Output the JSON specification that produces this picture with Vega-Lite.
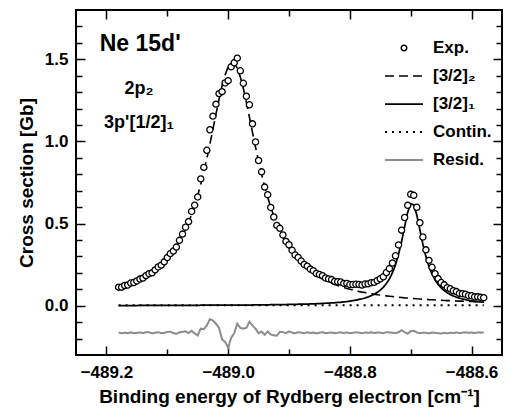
{
"$schema": "https://vega.github.io/schema/vega-lite/v6.json",
"width": 426, "height": 345,
"autosize": "none",
"padding": {"left": 76, "top": 10, "right": 8, "bottom": 59},
"background": "white",
"config": {
  "font": "Liberation Sans",
  "view": {"stroke": "black", "strokeWidth": 2},
  "axis": {"domain": false, "grid": false, "labelOverlap": false, "labelBound": false, "labelFont": "Liberation Sans", "labelFontWeight": "bold", "labelFontSize": 17, "labelColor": "black", "titleFont": "Liberation Sans", "titleFontWeight": "bold", "titleFontSize": 19, "titleColor": "black", "tickColor": "black", "tickWidth": 1.5}
},
"datasets": {"d": [
{"x":-489.180,"exp":0.113,"b2":0.106,"b1":0.001,"cont":0.003,"res":-0.163},
{"x":-489.175,"exp":0.113,"b2":0.112,"b1":0.001,"cont":0.003,"res":-0.168},
{"x":-489.170,"exp":0.123,"b2":0.118,"b1":0.001,"cont":0.003,"res":-0.164},
{"x":-489.165,"exp":0.126,"b2":0.124,"b1":0.001,"cont":0.003,"res":-0.167},
{"x":-489.160,"exp":0.138,"b2":0.131,"b1":0.001,"cont":0.003,"res":-0.162},
{"x":-489.155,"exp":0.141,"b2":0.138,"b1":0.001,"cont":0.003,"res":-0.167},
{"x":-489.150,"exp":0.151,"b2":0.146,"b1":0.001,"cont":0.003,"res":-0.165},
{"x":-489.145,"exp":0.162,"b2":0.155,"b1":0.002,"cont":0.003,"res":-0.163},
{"x":-489.140,"exp":0.168,"b2":0.165,"b1":0.002,"cont":0.003,"res":-0.166},
{"x":-489.135,"exp":0.183,"b2":0.175,"b1":0.002,"cont":0.003,"res":-0.162},
{"x":-489.130,"exp":0.195,"b2":0.186,"b1":0.002,"cont":0.003,"res":-0.161},
{"x":-489.125,"exp":0.200,"b2":0.199,"b1":0.002,"cont":0.003,"res":-0.168},
{"x":-489.120,"exp":0.218,"b2":0.213,"b1":0.002,"cont":0.003,"res":-0.164},
{"x":-489.115,"exp":0.236,"b2":0.228,"b1":0.002,"cont":0.003,"res":-0.161},
{"x":-489.110,"exp":0.247,"b2":0.244,"b1":0.002,"cont":0.003,"res":-0.167},
{"x":-489.105,"exp":0.267,"b2":0.263,"b1":0.002,"cont":0.003,"res":-0.165},
{"x":-489.100,"exp":0.293,"b2":0.283,"b1":0.002,"cont":0.003,"res":-0.160},
{"x":-489.095,"exp":0.317,"b2":0.305,"b1":0.002,"cont":0.003,"res":-0.158},
{"x":-489.090,"exp":0.333,"b2":0.330,"b1":0.002,"cont":0.003,"res":-0.167},
{"x":-489.085,"exp":0.357,"b2":0.358,"b1":0.002,"cont":0.003,"res":-0.171},
{"x":-489.080,"exp":0.398,"b2":0.390,"b1":0.002,"cont":0.003,"res":-0.162},
{"x":-489.075,"exp":0.436,"b2":0.424,"b1":0.002,"cont":0.003,"res":-0.159},
{"x":-489.070,"exp":0.478,"b2":0.464,"b1":0.002,"cont":0.003,"res":-0.156},
{"x":-489.065,"exp":0.512,"b2":0.507,"b1":0.002,"cont":0.003,"res":-0.166},
{"x":-489.060,"exp":0.574,"b2":0.556,"b1":0.002,"cont":0.003,"res":-0.153},
{"x":-489.055,"exp":0.612,"b2":0.611,"b1":0.002,"cont":0.003,"res":-0.169},
{"x":-489.050,"exp":0.662,"b2":0.672,"b1":0.002,"cont":0.003,"res":-0.181},
{"x":-489.045,"exp":0.772,"b2":0.740,"b1":0.003,"cont":0.003,"res":-0.139},
{"x":-489.040,"exp":0.842,"b2":0.815,"b1":0.003,"cont":0.003,"res":-0.143},
{"x":-489.035,"exp":0.946,"b2":0.896,"b1":0.003,"cont":0.003,"res":-0.120},
{"x":-489.030,"exp":1.071,"b2":0.983,"b1":0.003,"cont":0.003,"res":-0.082},
{"x":-489.025,"exp":1.154,"b2":1.074,"b1":0.003,"cont":0.003,"res":-0.090},
{"x":-489.020,"exp":1.227,"b2":1.166,"b1":0.003,"cont":0.003,"res":-0.110},
{"x":-489.015,"exp":1.291,"b2":1.255,"b1":0.003,"cont":0.003,"res":-0.135},
{"x":-489.010,"exp":1.303,"b2":1.337,"b1":0.003,"cont":0.003,"res":-0.205},
{"x":-489.005,"exp":1.356,"b2":1.405,"b1":0.003,"cont":0.003,"res":-0.220},
{"x":-489.000,"exp":1.370,"b2":1.454,"b1":0.003,"cont":0.003,"res":-0.255},
{"x":-488.995,"exp":1.454,"b2":1.478,"b1":0.003,"cont":0.003,"res":-0.195},
{"x":-488.990,"exp":1.479,"b2":1.475,"b1":0.003,"cont":0.003,"res":-0.168},
{"x":-488.985,"exp":1.507,"b2":1.446,"b1":0.004,"cont":0.003,"res":-0.110},
{"x":-488.980,"exp":1.430,"b2":1.393,"b1":0.004,"cont":0.003,"res":-0.135},
{"x":-488.975,"exp":1.354,"b2":1.322,"b1":0.004,"cont":0.003,"res":-0.140},
{"x":-488.970,"exp":1.275,"b2":1.238,"b1":0.004,"cont":0.003,"res":-0.135},
{"x":-488.965,"exp":1.223,"b2":1.147,"b1":0.004,"cont":0.003,"res":-0.097},
{"x":-488.960,"exp":1.107,"b2":1.055,"b1":0.004,"cont":0.003,"res":-0.120},
{"x":-488.955,"exp":0.997,"b2":0.965,"b1":0.005,"cont":0.003,"res":-0.140},
{"x":-488.950,"exp":0.884,"b2":0.879,"b1":0.005,"cont":0.003,"res":-0.168},
{"x":-488.945,"exp":0.815,"b2":0.799,"b1":0.005,"cont":0.003,"res":-0.157},
{"x":-488.940,"exp":0.722,"b2":0.726,"b1":0.005,"cont":0.003,"res":-0.177},
{"x":-488.935,"exp":0.676,"b2":0.660,"b1":0.005,"cont":0.003,"res":-0.157},
{"x":-488.930,"exp":0.598,"b2":0.600,"b1":0.006,"cont":0.003,"res":-0.175},
{"x":-488.925,"exp":0.540,"b2":0.546,"b1":0.006,"cont":0.003,"res":-0.180},
{"x":-488.920,"exp":0.489,"b2":0.498,"b1":0.006,"cont":0.003,"res":-0.183},
{"x":-488.915,"exp":0.471,"b2":0.455,"b1":0.007,"cont":0.003,"res":-0.159},
{"x":-488.910,"exp":0.431,"b2":0.417,"b1":0.007,"cont":0.003,"res":-0.161},
{"x":-488.905,"exp":0.391,"b2":0.383,"b1":0.007,"cont":0.003,"res":-0.167},
{"x":-488.900,"exp":0.371,"b2":0.353,"b1":0.008,"cont":0.003,"res":-0.157},
{"x":-488.895,"exp":0.338,"b2":0.325,"b1":0.008,"cont":0.003,"res":-0.163},
{"x":-488.890,"exp":0.309,"b2":0.301,"b1":0.008,"cont":0.003,"res":-0.168},
{"x":-488.885,"exp":0.294,"b2":0.279,"b1":0.009,"cont":0.003,"res":-0.161},
{"x":-488.880,"exp":0.272,"b2":0.259,"b1":0.009,"cont":0.003,"res":-0.164},
{"x":-488.875,"exp":0.251,"b2":0.241,"b1":0.010,"cont":0.003,"res":-0.167},
{"x":-488.870,"exp":0.241,"b2":0.224,"b1":0.010,"cont":0.003,"res":-0.162},
{"x":-488.865,"exp":0.223,"b2":0.210,"b1":0.011,"cont":0.003,"res":-0.166},
{"x":-488.860,"exp":0.213,"b2":0.196,"b1":0.011,"cont":0.003,"res":-0.163},
{"x":-488.855,"exp":0.196,"b2":0.184,"b1":0.012,"cont":0.003,"res":-0.168},
{"x":-488.850,"exp":0.190,"b2":0.173,"b1":0.013,"cont":0.003,"res":-0.164},
{"x":-488.845,"exp":0.183,"b2":0.163,"b1":0.014,"cont":0.003,"res":-0.161},
{"x":-488.840,"exp":0.169,"b2":0.153,"b1":0.015,"cont":0.003,"res":-0.167},
{"x":-488.835,"exp":0.163,"b2":0.145,"b1":0.016,"cont":0.003,"res":-0.165},
{"x":-488.830,"exp":0.159,"b2":0.137,"b1":0.017,"cont":0.003,"res":-0.163},
{"x":-488.825,"exp":0.148,"b2":0.129,"b1":0.018,"cont":0.003,"res":-0.168},
{"x":-488.820,"exp":0.146,"b2":0.123,"b1":0.020,"cont":0.003,"res":-0.164},
{"x":-488.815,"exp":0.144,"b2":0.116,"b1":0.021,"cont":0.003,"res":-0.162},
{"x":-488.810,"exp":0.136,"b2":0.111,"b1":0.023,"cont":0.003,"res":-0.166},
{"x":-488.805,"exp":0.136,"b2":0.105,"b1":0.025,"cont":0.003,"res":-0.163},
{"x":-488.800,"exp":0.129,"b2":0.100,"b1":0.028,"cont":0.003,"res":-0.167},
{"x":-488.795,"exp":0.129,"b2":0.096,"b1":0.031,"cont":0.003,"res":-0.165},
{"x":-488.790,"exp":0.131,"b2":0.091,"b1":0.034,"cont":0.003,"res":-0.162},
{"x":-488.785,"exp":0.129,"b2":0.087,"b1":0.038,"cont":0.003,"res":-0.164},
{"x":-488.780,"exp":0.126,"b2":0.083,"b1":0.042,"cont":0.003,"res":-0.167},
{"x":-488.775,"exp":0.132,"b2":0.080,"b1":0.047,"cont":0.003,"res":-0.163},
{"x":-488.770,"exp":0.133,"b2":0.076,"b1":0.053,"cont":0.003,"res":-0.165},
{"x":-488.765,"exp":0.140,"b2":0.073,"b1":0.061,"cont":0.003,"res":-0.162},
{"x":-488.760,"exp":0.142,"b2":0.070,"b1":0.070,"cont":0.003,"res":-0.166},
{"x":-488.755,"exp":0.153,"b2":0.067,"b1":0.081,"cont":0.003,"res":-0.163},
{"x":-488.750,"exp":0.164,"b2":0.065,"b1":0.095,"cont":0.003,"res":-0.164},
{"x":-488.745,"exp":0.176,"b2":0.062,"b1":0.112,"cont":0.003,"res":-0.167},
{"x":-488.740,"exp":0.202,"b2":0.060,"b1":0.135,"cont":0.003,"res":-0.161},
{"x":-488.735,"exp":0.226,"b2":0.058,"b1":0.163,"cont":0.003,"res":-0.163},
{"x":-488.730,"exp":0.260,"b2":0.056,"b1":0.201,"cont":0.003,"res":-0.164},
{"x":-488.725,"exp":0.304,"b2":0.054,"b1":0.249,"cont":0.003,"res":-0.167},
{"x":-488.720,"exp":0.370,"b2":0.052,"b1":0.313,"cont":0.003,"res":-0.162},
{"x":-488.715,"exp":0.460,"b2":0.050,"b1":0.391,"cont":0.003,"res":-0.149},
{"x":-488.710,"exp":0.537,"b2":0.048,"b1":0.482,"cont":0.003,"res":-0.161},
{"x":-488.705,"exp":0.611,"b2":0.047,"b1":0.568,"cont":0.003,"res":-0.171},
{"x":-488.700,"exp":0.678,"b2":0.045,"b1":0.620,"cont":0.003,"res":-0.155},
{"x":-488.695,"exp":0.672,"b2":0.044,"b1":0.614,"cont":0.003,"res":-0.153},
{"x":-488.690,"exp":0.599,"b2":0.042,"b1":0.552,"cont":0.003,"res":-0.163},
{"x":-488.685,"exp":0.505,"b2":0.041,"b1":0.463,"cont":0.003,"res":-0.167},
{"x":-488.680,"exp":0.418,"b2":0.040,"b1":0.374,"cont":0.003,"res":-0.164},
{"x":-488.675,"exp":0.340,"b2":0.039,"b1":0.299,"cont":0.003,"res":-0.165},
{"x":-488.670,"exp":0.276,"b2":0.037,"b1":0.239,"cont":0.003,"res":-0.168},
{"x":-488.665,"exp":0.234,"b2":0.036,"b1":0.192,"cont":0.003,"res":-0.163},
{"x":-488.660,"exp":0.195,"b2":0.035,"b1":0.157,"cont":0.003,"res":-0.165},
{"x":-488.655,"exp":0.165,"b2":0.034,"b1":0.130,"cont":0.003,"res":-0.167},
{"x":-488.650,"exp":0.141,"b2":0.033,"b1":0.109,"cont":0.003,"res":-0.169},
{"x":-488.645,"exp":0.127,"b2":0.032,"b1":0.092,"cont":0.003,"res":-0.165},
{"x":-488.640,"exp":0.110,"b2":0.031,"b1":0.079,"cont":0.003,"res":-0.168},
{"x":-488.635,"exp":0.103,"b2":0.031,"b1":0.068,"cont":0.003,"res":-0.164},
{"x":-488.630,"exp":0.091,"b2":0.030,"b1":0.059,"cont":0.003,"res":-0.166},
{"x":-488.625,"exp":0.086,"b2":0.029,"b1":0.052,"cont":0.003,"res":-0.163},
{"x":-488.620,"exp":0.075,"b2":0.028,"b1":0.046,"cont":0.003,"res":-0.167},
{"x":-488.615,"exp":0.073,"b2":0.028,"b1":0.041,"cont":0.003,"res":-0.164},
{"x":-488.610,"exp":0.070,"b2":0.027,"b1":0.037,"cont":0.003,"res":-0.162},
{"x":-488.605,"exp":0.062,"b2":0.026,"b1":0.033,"cont":0.003,"res":-0.165},
{"x":-488.600,"exp":0.061,"b2":0.026,"b1":0.030,"cont":0.003,"res":-0.163},
{"x":-488.595,"exp":0.054,"b2":0.025,"b1":0.027,"cont":0.003,"res":-0.166},
{"x":-488.590,"exp":0.054,"b2":0.024,"b1":0.025,"cont":0.003,"res":-0.163},
{"x":-488.585,"exp":0.051,"b2":0.024,"b1":0.023,"cont":0.003,"res":-0.164},
{"x":-488.580,"exp":0.049,"b2":0.023,"b1":0.021,"cont":0.003,"res":-0.163}
]},
"layer": [
  {
    "data": {"name": "d"},
    "layer": [
      {
        "transform": [{"fold": ["b2", "b1", "cont", "res"], "as": ["series", "y"]}],
        "mark": {"type": "line", "strokeCap": "butt"},
        "encoding": {
          "x": {"field": "x", "type": "quantitative", "scale": {"domain": [-489.25, -488.55], "nice": false, "zero": false},
                "axis": {"orient": "bottom", "values": [-489.2, -489.0, -488.8, -488.6], "format": ".1f", "labelOverlap": false,
                         "tickSize": -9, "labelPadding": 18, "title": "Binding energy of Rydberg electron [cm⁻¹]", "titlePadding": 7}},
          "y": {"field": "y", "type": "quantitative", "scale": {"domain": [-0.3, 1.8], "nice": false, "zero": false},
                "axis": {"orient": "left", "values": [0, 0.5, 1.0, 1.5], "format": ".1f", "labelOverlap": false,
                         "tickSize": -9, "labelPadding": 17, "title": "Cross section [Gb]", "titlePadding": 8}},
          "stroke": {"field": "series", "type": "nominal",
                     "scale": {"domain": ["exp", "b2", "b1", "cont", "res"], "range": ["black", "black", "black", "black", "#8c8c8c"]},
                     "legend": {"title": null, "orient": "none", "legendX": 308, "legendY": 18, "padding": 0,
                                "labelExpr": "datum.value == 'exp' ? 'Exp.' : datum.value == 'b2' ? '[3/2]₂' : datum.value == 'b1' ? '[3/2]₁' : datum.value == 'cont' ? 'Contin.' : 'Resid.'",
                                "labelFont": "Liberation Sans", "labelFontSize": 17, "labelFontWeight": "bold", "labelColor": "black",
                                "symbolType": "stroke", "symbolSize": 1444, "rowPadding": 0, "labelOffset": 9, "symbolStrokeWidth": 2,
                                "encode": {"symbols": {"update": {
                                  "shape": {"signal": "datum.value == 'exp' ? 'circle' : 'stroke'"},
                                  "size": {"signal": "datum.value == 'exp' ? 30 : 1444"},
                                  "fill": {"signal": "datum.value == 'exp' ? 'white' : 'transparent'"},
                                  "strokeWidth": {"signal": "datum.value == 'exp' ? 1.3 : datum.value == 'res' ? 2.5 : 2"}}}}}},
          "strokeDash": {"field": "series", "type": "nominal",
                         "scale": {"domain": ["exp", "b2", "b1", "cont", "res"], "range": [[1, 0], [9, 5], [1, 0], [2, 5], [1, 0]]}},
          "strokeWidth": {"field": "series", "type": "nominal",
                          "scale": {"domain": ["exp", "b2", "b1", "cont", "res"], "range": [1.5, 2, 2, 2, 2.5]}}
        }
      },
      {
        "mark": {"type": "point", "shape": "circle", "filled": true, "fill": "white", "stroke": "black", "strokeWidth": 1.3, "size": 38, "opacity": 1},
        "encoding": {
          "x": {"field": "x", "type": "quantitative"},
          "y": {"field": "exp", "type": "quantitative"}
        }
      },
      {
        "data": {"values": [{}]},
        "mark": {"type": "text", "font": "Liberation Sans", "fontWeight": "bold", "fontSize": 23, "align": "left", "baseline": "alphabetic", "color": "black"},
        "encoding": {"x": {"datum": -489.211}, "y": {"datum": 1.549}, "text": {"value": "Ne 15d'"}}
      },
      {
        "data": {"values": [{}]},
        "mark": {"type": "text", "font": "Liberation Sans", "fontWeight": "bold", "fontSize": 18, "align": "center", "baseline": "alphabetic", "color": "black"},
        "encoding": {"x": {"datum": -489.1465}, "y": {"datum": 1.287}, "text": {"value": "2p₂"}}
      },
      {
        "data": {"values": [{}]},
        "mark": {"type": "text", "font": "Liberation Sans", "fontWeight": "bold", "fontSize": 18, "align": "center", "baseline": "alphabetic", "color": "black"},
        "encoding": {"x": {"datum": -489.1465}, "y": {"datum": 1.079}, "text": {"value": "3p'[1/2]₁"}}
      }
    ]
  },
  {
    "data": {"name": "d"},
    "mark": {"type": "point", "opacity": 0},
    "encoding": {
      "x": {"field": "x", "type": "quantitative",
            "axis": {"orient": "bottom", "values": [-489.1, -488.9, -488.7], "labels": false, "title": null, "tickSize": -6}},
      "y": {"field": "exp", "type": "quantitative",
            "axis": {"orient": "left", "values": [-0.2, -0.1, 0.1, 0.2, 0.3, 0.4, 0.6, 0.7, 0.8, 0.9, 1.1, 1.2, 1.3, 1.4, 1.6, 1.7], "labels": false, "title": null, "tickSize": -6}}
    }
  },
  {
    "data": {"name": "d"},
    "mark": {"type": "point", "opacity": 0},
    "encoding": {
      "x": {"field": "x", "type": "quantitative",
            "axis": {"orient": "top", "values": [-489.2, -489.0, -488.8, -488.6], "labels": false, "title": null, "tickSize": -9}},
      "y": {"field": "exp", "type": "quantitative",
            "axis": {"orient": "right", "values": [0, 0.5, 1.0, 1.5], "labels": false, "title": null, "tickSize": -9}}
    }
  },
  {
    "data": {"name": "d"},
    "mark": {"type": "point", "opacity": 0},
    "encoding": {
      "x": {"field": "x", "type": "quantitative",
            "axis": {"orient": "top", "values": [-489.1, -488.9, -488.7], "labels": false, "title": null, "tickSize": -6}},
      "y": {"field": "exp", "type": "quantitative",
            "axis": {"orient": "right", "values": [-0.2, -0.1, 0.1, 0.2, 0.3, 0.4, 0.6, 0.7, 0.8, 0.9, 1.1, 1.2, 1.3, 1.4, 1.6, 1.7], "labels": false, "title": null, "tickSize": -6}}
    }
  }
],
"resolve": {"axis": {"x": "independent", "y": "independent"}}
}
